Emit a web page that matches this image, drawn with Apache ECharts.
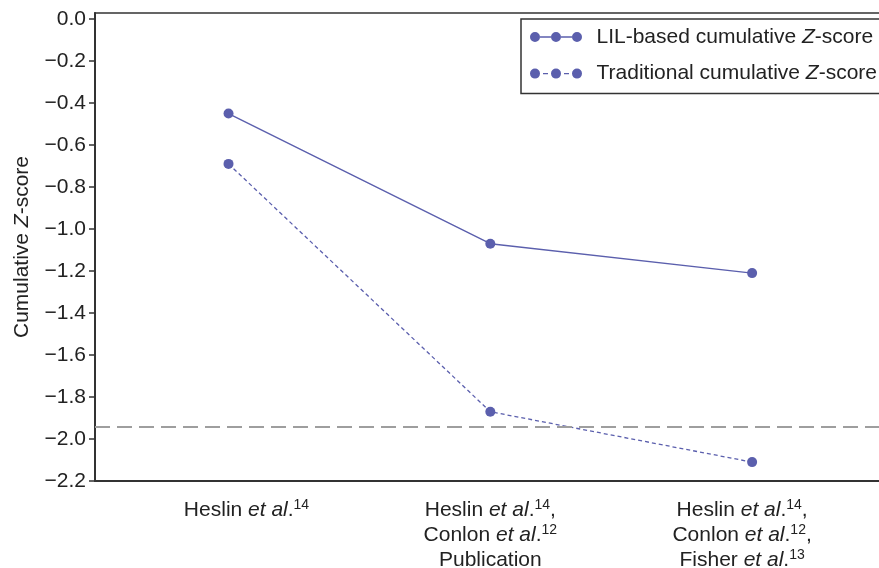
<!DOCTYPE html>
<html>
<head>
<meta charset="utf-8">
<script src="https://cdn.jsdelivr.net/npm/echarts@6/dist/echarts.min.js"></script>
<style>html,body{margin:0;padding:0;background:#fff}#c{width:879px;height:568px}</style>
</head>
<body>
<div id="c"></div>
<script>
// ---- data ----
var categories = [
  'Heslin {i|et al}.{s|14}',
  'Heslin {i|et al}.{s|14},\nConlon {i|et al}.{s|12}\nPublication',
  'Heslin {i|et al}.{s|14},\nConlon {i|et al}.{s|12},\nFisher {i|et al}.{s|13}'
];
var lilValues = [-0.45, -1.07, -1.21];
var tradValues = [-0.69, -1.87, -2.11];
var yTicks = [-2.2, -2.0, -1.8, -1.6, -1.4, -1.2, -1.0, -0.8, -0.6, -0.4, -0.2, 0.0];
var refLine = -1.94;
var seriesNames = ['LIL-based cumulative {i|Z}-score', 'Traditional cumulative {i|Z}-score'];

// ---- style ----
var FONT = 'Liberation Sans, Arial, Helvetica, sans-serif';
var COLOR = '#5b5fad';
var TXT = '#222';
// horizontal nudge of each category label (layout only)
var labelNudge = ['{gA|}', '', ''];
var labelNudgeEnd = ['', '', '{gB|}'];

function pairs(vals) { return vals.map(function (v, i) { return [i, v]; }); }

var circ = function (cx) { return 'M' + (cx - 5) + ',5a5,5 0 1,0 10,0a5,5 0 1,0 -10,0z'; };
var iconSolid = 'path://' + circ(5) + circ(26) + circ(47) + 'M10,4.3h11v1.4h-11zM31,4.3h11v1.4h-11z';
var iconDash = 'path://' + circ(5) + circ(26) + circ(47) + 'M13,4.3h5v1.4h-5zM34,4.3h5v1.4h-5z';

var chart = echarts.init(document.getElementById('c'), null, { renderer: 'canvas' });
chart.setOption({
  animation: false,
  backgroundColor: '#fff',
  textStyle: { fontFamily: FONT },
  grid: {
    left: 95, right: -4, top: 13, bottom: 87,
    outerBoundsMode: 'none', containLabel: false,
    show: true, borderColor: '#333', borderWidth: 1.5, backgroundColor: 'transparent'
  },
  legend: {
    orient: 'vertical',
    left: 521, top: 19,
    padding: [7, 40, 9, 9],
    itemGap: 14.6,
    itemWidth: 53, itemHeight: 10,
    borderColor: '#333', borderWidth: 1.5,
    backgroundColor: '#fff',
    itemStyle: { borderWidth: 0 },
    textStyle: {
      fontFamily: FONT, fontSize: 21, color: TXT, lineHeight: 22, padding: [0, 0, 0, 9],
      rich: { i: { fontStyle: 'italic', fontSize: 21, fontFamily: FONT, color: TXT, lineHeight: 22 } }
    },
    data: [
      { name: seriesNames[0], icon: iconSolid },
      { name: seriesNames[1], icon: iconDash }
    ]
  },
  xAxis: {
    type: 'value',
    min: -0.51, max: 2.5,
    axisLine: { show: true, onZero: false, lineStyle: { color: '#333', width: 2 } },
    axisTick: { show: false },
    splitLine: { show: false },
    axisLabel: {
      customValues: [0, 1, 2],
      margin: 17,
      formatter: function (v) {
        var k = Math.round(v);
        return categories[k].split('\n').map(function (line) {
          return labelNudge[k] + line + labelNudgeEnd[k];
        }).join('\n');
      },
      fontFamily: FONT, fontSize: 21, color: TXT, lineHeight: 25, align: 'center', verticalAlign: 'top',
      rich: {
        i: { fontStyle: 'italic', fontSize: 21, fontFamily: FONT, color: TXT, lineHeight: 25 },
        s: { fontSize: 14, fontFamily: FONT, color: TXT, lineHeight: 14, verticalAlign: 'top' },
        gA: { width: 36, height: 1 },
        gB: { width: 20, height: 1 }
      }
    }
  },
  yAxis: {
    type: 'value',
    min: -2.2, max: 0.0286,
    name: 'Cumulative {i|Z}-score',
    nameLocation: 'middle',
    nameGap: 62,
    nameTextStyle: {
      fontFamily: FONT, fontSize: 21, color: TXT,
      rich: { i: { fontStyle: 'italic', fontFamily: FONT, fontSize: 21, color: TXT } }
    },
    axisLine: { show: true, onZero: false, lineStyle: { color: '#333', width: 2 } },
    axisTick: { show: true, customValues: yTicks, length: 6, lineStyle: { color: '#333', width: 1.5 } },
    splitLine: { show: false },
    axisLabel: {
      customValues: yTicks,
      margin: 9,
      fontFamily: FONT, fontSize: 21, color: TXT,
      formatter: function (v) { return v.toFixed(1).replace('-', '\u2212'); }
    }
  },
  series: [
    {
      name: seriesNames[0],
      type: 'line',
      data: pairs(lilValues),
      symbol: 'circle', symbolSize: 10,
      itemStyle: { color: COLOR },
      lineStyle: { color: COLOR, width: 1.4 },
      markLine: {
        silent: true, symbol: 'none', label: { show: false },
        lineStyle: { color: '#9e9e9e', type: [15, 7], width: 2 },
        data: [{ yAxis: refLine }]
      },
      z: 3
    },
    {
      name: seriesNames[1],
      type: 'line',
      data: pairs(tradValues),
      symbol: 'circle', symbolSize: 10,
      itemStyle: { color: COLOR },
      lineStyle: { color: COLOR, width: 1.3, type: [4, 3] },
      z: 3
    }
  ]
});
</script>
</body>
</html>
